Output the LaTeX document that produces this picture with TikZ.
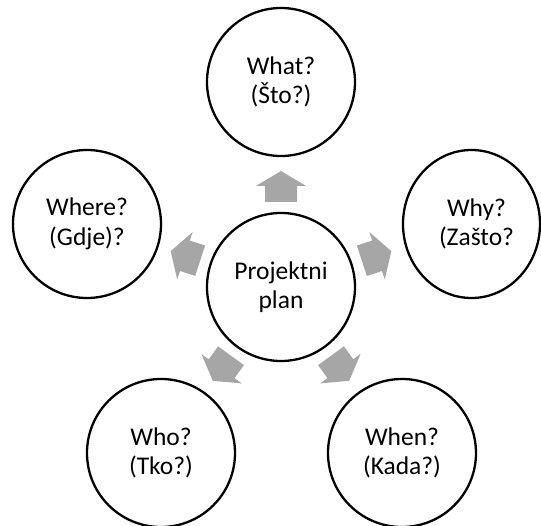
\documentclass[tikz,border=0pt]{standalone}
\usepackage{fontspec}
\setmainfont{Carlito}
\usetikzlibrary{shapes.geometric}
\begin{document}
\begin{tikzpicture}[x=1pt,y=1pt,
  bubble/.style={circle,draw=black,line width=2.3pt,minimum size=148pt,inner sep=0pt,
    font=\fontsize{25.5}{29.5}\selectfont,align=center},
  arrowfill/.style={fill=black!35,draw=none}]
\useasboundingbox (0,0) rectangle (541,-526);
\node[bubble] (c) at (281,-287) {Projektni\\plan};
\node[bubble] (what) at (281,-82) {What?\\(Što?)};
\node[bubble] (where) at (87,-224) {Where?\\(Gdje)?};
\node[bubble] (who) at (161,-453) {Who?\\(Tko?)};
\node[bubble] (when) at (402,-453) {When?\\(Kada?)};
\node[bubble,ellipse,minimum width=137pt,minimum height=148pt] (why) at (471.5,-224) {};
\node[font=\fontsize{25.5}{29.5}\selectfont,align=center] (whytext) at (476.5,-224) {Why?\\(Zašto?};
\foreach \ang in {90,18,-54,-126,162}{
  \begin{scope}[shift={(c.center)},rotate=\ang]
    \fill[arrowfill] (85,16) -- (101,16) -- (101,25) -- (116,0) -- (101,-25) -- (101,-16) -- (85,-16) -- cycle;
  \end{scope}
}
\end{tikzpicture}
\end{document}
